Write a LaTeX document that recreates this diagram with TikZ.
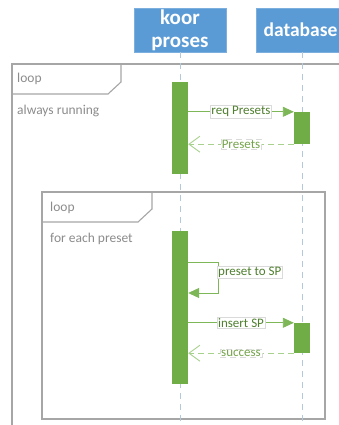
\documentclass[tikz,border=0pt]{standalone}
\usepackage{fontspec}
\setmainfont{Carlito}
\usetikzlibrary{arrows.meta}
\definecolor{hdr}{HTML}{5B9BD5}
\definecolor{act}{HTML}{70AD47}
\definecolor{msg}{HTML}{7DB757}
\definecolor{ret}{HTML}{A9D18E}
\definecolor{lbl}{HTML}{4F7F2F}
\definecolor{lblret}{HTML}{74A44A}
\definecolor{frm}{HTML}{A6A6A6}
\definecolor{frmtxt}{HTML}{8C8C8C}
\definecolor{life}{HTML}{B4C8DC}
\definecolor{lblbd}{HTML}{DADADA}
\tikzset{
  hdrbox/.style={fill=hdr, draw=hdr!80!white, line width=0.8pt, text=white, font=\bfseries\fontsize{21}{23}\selectfont, align=center, minimum width=92pt, minimum height=44pt, inner sep=0pt},
  lifeline/.style={draw=life, line width=0.8pt, dash pattern=on 6pt off 5pt},
  actbar/.style={fill=act, draw=none, minimum width=16pt, inner sep=0pt},
  frameline/.style={draw=frm, line width=1.1pt},
  frametext/.style={text=frmtxt, font=\fontsize{13.5}{15}\selectfont, anchor=west, inner sep=0pt},
  syncmsg/.style={draw=msg, line width=0.9pt, -{Triangle[length=11pt,width=10pt]}},
  retmsg/.style={draw=ret, line width=0.9pt, dash pattern=on 6pt off 4pt, -{Straight Barb[length=11pt,width=16pt,line width=0.9pt]}},
  lblbox/.style={fill=white, draw=lblbd, line width=0.4pt, text=lbl, font=\fontsize{13}{15}\selectfont, inner sep=1pt},
  lblretbox/.style={lblbox, text=lblret}
}
\begin{document}
\begin{tikzpicture}[x=1pt,y=-1pt]
\useasboundingbox (0,0) rectangle (339,425);
\clip (0,0) rectangle (339,425);
\fill[white] (0,0) rectangle (339,425);

% headers
\node[hdrbox] (koor) at (180,30) {koor\\proses};
\node[hdrbox, font=\bfseries\fontsize{19.5}{23}\selectfont] (db) at (302,30) {\hspace*{-3pt}database};
\coordinate (kend) at (180,430);
\coordinate (dend) at (302,430);

% outer loop frame
\draw[frameline] (12,64) rectangle (350,440);
\draw[frameline] (12,94) -- (108,94) -- (121,82) -- (121,64);
\node[frametext] (l1) at (17,79) {loop};
\node[frametext] (c1) at (17,111) {always running};

% inner loop frame
\draw[frameline] (42,192) rectangle (325,419);
\draw[frameline] (42,222) -- (138,222) -- (152,209) -- (152,192);
\node[frametext] (l2) at (50,208) {loop};
\node[frametext] (c2) at (50,239) {for each preset};

% lifelines
\draw[lifeline] (koor.south) -- (kend);
\draw[lifeline] (db.south) -- (dend);

% activations
\node[actbar, minimum height=92pt] (ka1) at (180,128) {};
\node[actbar, minimum height=32pt] (da1) at (302,128) {};
\node[actbar, minimum height=153pt] (ka2) at (180,307.5) {};
\node[actbar, minimum height=30pt] (da2) at (302,338) {};

% messages block 1
\draw[syncmsg] (ka1.east |- da1.north west) -- node[lblbox] (m1) {req Presets} (da1.north west);
\draw[retmsg] (da1.south west) -- node[lblretbox] (m2) {Presets} (ka1.east |- da1.south west);

% self message
\coordinate (s1) at (218,262);
\coordinate (s2) at (218,293);
\draw[syncmsg] (ka2.east |- s1) -- (s1) -- (s2) -- (ka2.east |- s2);
\node[lblbox, anchor=west] (m3) at (217,272) {preset to SP};

% messages block 2
\draw[syncmsg] (ka2.east |- da2.north west) -- node[lblbox] (m4) {insert SP} (da2.north west);
\draw[retmsg] (da2.south west) -- node[lblretbox] (m5) {success} (ka2.east |- da2.south west);
\end{tikzpicture}
\end{document}
